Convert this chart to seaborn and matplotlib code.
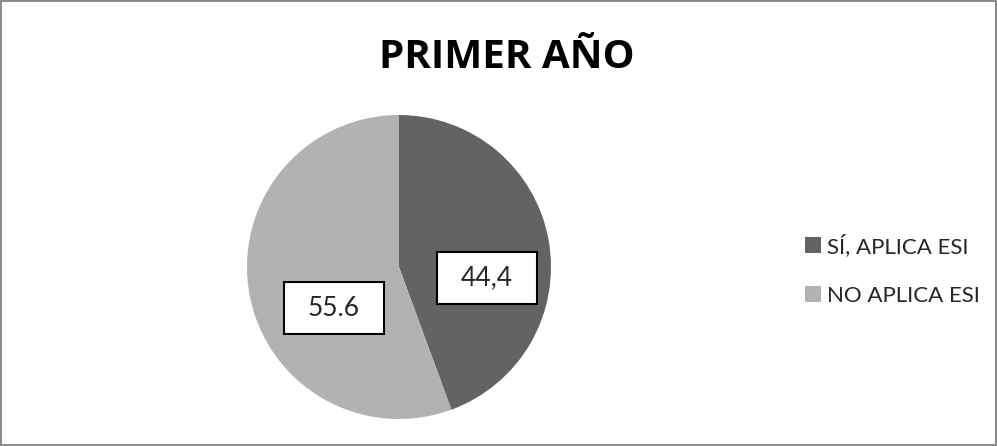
import matplotlib
matplotlib.use("Agg")
import matplotlib.pyplot as plt
import seaborn as sns
from matplotlib.patches import Patch, Rectangle

# data
categorias = ["SÍ, APLICA ESI", "NO APLICA ESI"]
valores = [44.4, 55.6]
etiquetas = ["44,4", "55.6"]
colores = ["#636363", "#b2b2b2"]

sns.set_style("white")
plt.rcParams["font.family"] = ["Lato", "DejaVu Sans"]

fig = plt.figure(figsize=(9.97, 4.46), dpi=100, facecolor="white",
                 edgecolor="#8c8c8c", linewidth=1.5)

# pie centered at about (399, 267) px with radius 152 px
W, H = 997, 446
cx, cy, r = 399, 267, 152
ax = fig.add_axes([(cx - r) / W, (H - cy - r) / H, 2 * r / W, 2 * r / H])

wedges, _ = ax.pie(valores, colors=colores, startangle=90, counterclock=False,
                   radius=1, wedgeprops=dict(linewidth=0))
ax.set_xlim(-1, 1)
ax.set_ylim(-1, 1)
ax.set_aspect("equal")

# boxed data labels
pos_labels = [(0.58, -0.07), (-0.43, -0.27)]
bw, bh = 100 / r, 52 / r
for (x, y), txt in zip(pos_labels, etiquetas):
    ax.add_patch(Rectangle((x - bw / 2, y - bh / 2), bw, bh, facecolor="white",
                           edgecolor="black", linewidth=1.5, zorder=3))
    ax.text(x, y, txt, ha="center", va="center", fontsize=19, zorder=4)

fig.text(507 / W, 1 - 58 / H, "PRIMER AÑO", ha="center", va="center",
         fontsize=29, fontweight="bold", family=["Open Sans", "DejaVu Sans"],
         color="black")

handles = [Patch(facecolor=c, edgecolor="none") for c in colores]
fig.legend(handles, categorias, loc="center left",
           bbox_to_anchor=(785 / W, 1 - 270 / H), frameon=False,
           fontsize=16, handlelength=0.72, handleheight=0.72,
           handletextpad=0.25, labelspacing=1.3)

fig.savefig("out.png", dpi=100, facecolor=fig.get_facecolor(),
            edgecolor=fig.get_edgecolor())
